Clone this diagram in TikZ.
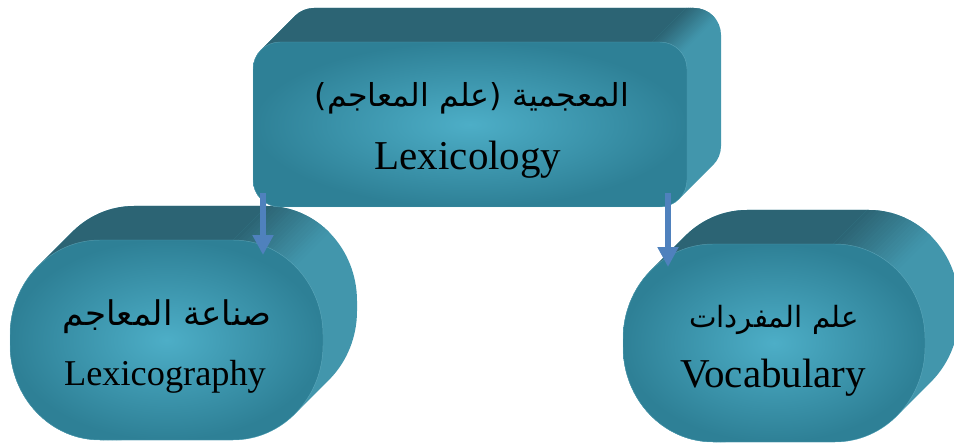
\documentclass[tikz,border=0pt]{standalone}
\usepackage{fontspec}
\setmainfont{Liberation Serif}
\newfontfamily\arabicfont[Script=Arabic]{DejaVu Sans}
\TeXXeTstate=1
\usetikzlibrary{arrows.meta}
\definecolor{faceIn}{RGB}{77,174,199}
\definecolor{faceOut}{RGB}{46,128,150}
\definecolor{sideDark}{RGB}{44,100,116}
\definecolor{sideLight}{RGB}{66,150,172}
\definecolor{arrowBlue}{RGB}{79,129,189}
% rounded box with elliptic corners: x1 y1 x2 y2 rx ry (y1 = bottom)
\newcommand\ebox[6]{({#1+#5},#4) -- ({#3-#5},#4) arc[start angle=90,end angle=0,x radius=#5,y radius=#6] -- (#3,{#2+#6}) arc[start angle=0,end angle=-90,x radius=#5,y radius=#6] -- ({#1+#5},#2) arc[start angle=270,end angle=180,x radius=#5,y radius=#6] -- (#1,{#4-#6}) arc[start angle=180,end angle=90,x radius=#5,y radius=#6] -- cycle}
% extruded solid: x1 y1 x2 y2 rx ry s0 s1 (gradient along x-y from s0 to s1)
\newcommand\solid[8]{%
  \begin{scope}
    \clip \foreach \i in {0,2,...,34} { \ebox{#1+\i}{#2+\i}{#3+\i}{#4+\i}{#5}{#6} };
    \fill[sideLight] (-100,-100) rectangle (1100,600);
    \fill[sideDark] (-1000,-100) -- ({#7-100},-100) -- ({#7+600},600) -- (-1000,600) -- cycle;
    \foreach \k in {0,...,19}{
      \pgfmathsetmacro\ca{#7+(#8-#7)*\k/20}
      \pgfmathsetmacro\cb{#7+(#8-#7)*(\k+1)/20+0.5}
      \pgfmathtruncatemacro\p{100*(\k+0.5)/20}
      \fill[sideLight!\p!sideDark] ({\ca-100},-100) -- ({\cb-100},-100) -- ({\cb+600},600) -- ({\ca+600},600) -- cycle;
    }
  \end{scope}
  \shade[frontface] \ebox{#1}{#2}{#3}{#4}{#5}{#6};
}
\tikzset{
  frontface/.style={inner color=faceIn, outer color=faceOut, draw=faceIn!70!white, draw opacity=0.45, line width=0.4pt},
  artext/.style={anchor=base, text=black, inner sep=0pt},
  entext/.style={anchor=base, text=black, inner sep=0pt},
  link/.style={draw=arrowBlue, line width=5pt, -{Triangle[width=17pt,length=17pt]}}
}
\begin{document}
\begin{tikzpicture}[x=0.03cm,y=0.03cm]
\useasboundingbox (0,0) rectangle (954,444);
% left solid
\solid{10}{4}{323}{204}{90}{95}{29}{117}
% right solid
\solid{623}{2}{925}{200}{90}{95}{633}{723}
% top solid
\solid{253}{237}{687}{402}{27}{27}{250}{290}
% texts
\node[artext, font=\arabicfont\fontsize{27}{33}\selectfont] (top-ar) at (472,337) {\beginR المعجمية (علم المعاجم)\endR};
\node[entext, font=\fontsize{35}{42}\selectfont] (top-en) at (468,274) {Lexicology};
\node[artext, font=\arabicfont\fontsize{29}{35}\selectfont] (left-ar) at (167,119) {\beginR صناعة المعاجم\endR};
\node[entext, font=\fontsize{31}{38}\selectfont] (left-en) at (165,59) {Lexicography};
\node[artext, font=\arabicfont\fontsize{25}{31}\selectfont] (right-ar) at (774,117) {\beginR علم المفردات\endR};
\node[entext, font=\fontsize{35}{42}\selectfont] (right-en) at (773,57) {Vocabulary};
% connectors
\coordinate (top-l) at (263,251);
\coordinate (left-in) at (263,189);
\coordinate (top-r) at (668,251);
\coordinate (right-in) at (668,177);
\draw[link] (top-l) -- (left-in);
\draw[link] (top-r) -- (right-in);
\end{tikzpicture}
\end{document}
